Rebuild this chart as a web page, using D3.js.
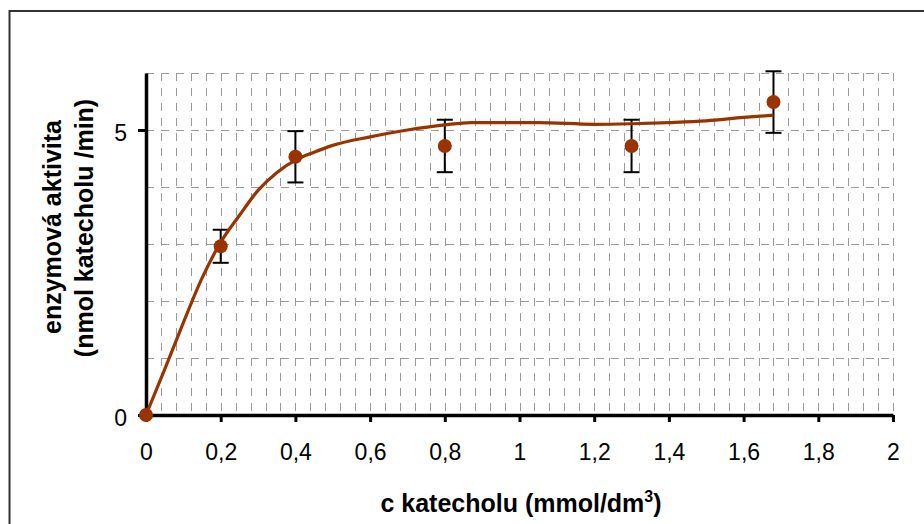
<!DOCTYPE html>
<html>
<head>
<meta charset="utf-8">
<script src="https://cdn.jsdelivr.net/npm/d3@7/dist/d3.min.js"></script>
<style>
  html, body { margin: 0; padding: 0; background: #fff; }
  svg { display: block; font-family: "Liberation Sans", Arial, sans-serif; }
</style>
</head>
<body>
<svg id="chart" width="924" height="524"></svg>
<script>
// Measured enzyme activity (mean ± error) for each catechol concentration
const concentrations = [0, 0.2, 0.4, 0.8, 1.3, 1.68];
const activity = [0, 2.96, 4.53, 4.72, 4.72, 5.49];
const errors = [0, 0.29, 0.45, 0.46, 0.46, 0.54];

// Fitted saturation curve
const fitConc = [0, 0.05, 0.1, 0.15, 0.2, 0.25, 0.3, 0.35, 0.4, 0.45, 0.5, 0.6, 0.7, 0.8, 0.87, 1.0, 1.05, 1.2, 1.3, 1.4, 1.5, 1.6, 1.68];
const fitActivity = [0, 0.8, 1.62, 2.4, 3.03, 3.5, 3.94, 4.25, 4.47, 4.61, 4.73, 4.88, 5.0, 5.09, 5.13, 5.13, 5.13, 5.1, 5.11, 5.13, 5.16, 5.22, 5.26];

// Axis ticks and grid steps
const xTicks = [0, 0.2, 0.4, 0.6, 0.8, 1, 1.2, 1.4, 1.6, 1.8, 2];
const yTicks = [0, 5];
const xMinorStep = 0.04;
const yMinorStep = 1;

const xLabel = "c katecholu (mmol/dm";
const yLabel1 = "enzymová aktivita";
const yLabel2 = "(nmol katecholu /min)";

const svg = d3.select("#chart");
const W = 924, H = 524;
const plotLeft = 146, plotRight = 893, plotTop = 73, plotBottom = 415;

const x = d3.scaleLinear().domain([0, 2]).range([plotLeft, plotRight]);
const y = d3.scaleLinear().domain([0, 6]).range([plotBottom, plotTop]);

svg.append("rect").attr("width", W).attr("height", H).attr("fill", "#fff");

// outer frame
svg.append("rect")
  .attr("x", 9.5).attr("y", 11)
  .attr("width", 1000).attr("height", 700)
  .attr("fill", "none").attr("stroke", "#333").attr("stroke-width", 2);

// grid
const grid = svg.append("g").attr("stroke", "#9a9a9a").attr("stroke-width", 1)
  .attr("stroke-dasharray", "8,7").attr("fill", "none");
const vLines = d3.range(1, Math.round(2 / xMinorStep) + 1).map(i => i * xMinorStep);
grid.selectAll("line.v").data(vLines).join("line").attr("class", "v")
  .attr("x1", d => Math.round(x(d)) + 0.5).attr("x2", d => Math.round(x(d)) + 0.5)
  .attr("y1", plotTop).attr("y2", plotBottom);
const hLines = d3.range(1, 7).map(i => i * yMinorStep);
grid.selectAll("line.h").data(hLines).join("line").attr("class", "h")
  .attr("x1", plotLeft).attr("x2", plotRight)
  .attr("y1", d => Math.round(y(d)) + 0.5).attr("y2", d => Math.round(y(d)) + 0.5);

const fmt = d => String(d).replace(".", ",");

// x axis
const gx = svg.append("g").attr("transform", `translate(0,${plotBottom})`)
  .call(d3.axisBottom(x).tickValues(xTicks).tickFormat(fmt).tickSize(7).tickSizeOuter(0));
gx.select(".domain").attr("stroke", "#000").attr("stroke-width", 3.5);
gx.selectAll(".tick line").attr("stroke", "#000").attr("stroke-width", 3);
gx.selectAll(".tick text").attr("y", 45).attr("dy", 0)
  .attr("font-size", 23).attr("fill", "#000").attr("font-family", "Liberation Sans, Arial, sans-serif");

// y axis
const gy = svg.append("g").attr("transform", `translate(${plotLeft},0)`)
  .call(d3.axisLeft(y).tickValues(yTicks).tickFormat(fmt).tickSize(8).tickPadding(11).tickSizeOuter(0));
gy.select(".domain").attr("stroke", "#000").attr("stroke-width", 3.5);
gy.selectAll(".tick line").attr("stroke", "#000").attr("stroke-width", 3);
gy.selectAll(".tick text").attr("dy", "0.45em")
  .attr("font-size", 23).attr("fill", "#000").attr("font-family", "Liberation Sans, Arial, sans-serif");

// axis titles
const xt = svg.append("text")
  .attr("x", 521).attr("y", 512).attr("text-anchor", "middle")
  .attr("font-size", 25).attr("font-weight", "bold").attr("fill", "#000");
xt.append("tspan").text(xLabel);
xt.append("tspan").attr("dy", -10).attr("font-size", 16).text("3");
xt.append("tspan").attr("dy", 10).text(")");

svg.append("text")
  .attr("transform", "translate(61,227) rotate(-90)")
  .attr("text-anchor", "middle").attr("font-size", 25).attr("font-weight", "bold")
  .text(yLabel1);
svg.append("text")
  .attr("transform", "translate(93,228) rotate(-90)")
  .attr("text-anchor", "middle").attr("font-size", 25).attr("font-weight", "bold")
  .text(yLabel2);

const data = concentrations.map((c, i) => ({ c, a: activity[i], e: errors[i] }));

// error bars
const eb = svg.append("g").attr("stroke", "#000").attr("stroke-width", 2);
data.filter(d => d.e > 0).forEach(d => {
  const cx = x(d.c);
  eb.append("line").attr("x1", cx).attr("x2", cx).attr("y1", y(d.a + d.e)).attr("y2", y(d.a - d.e));
  eb.append("line").attr("x1", cx - 8).attr("x2", cx + 8).attr("y1", y(d.a + d.e)).attr("y2", y(d.a + d.e));
  eb.append("line").attr("x1", cx - 8).attr("x2", cx + 8).attr("y1", y(d.a - d.e)).attr("y2", y(d.a - d.e));
});

// fitted curve
const fit = fitConc.map((c, i) => [c, fitActivity[i]]);
svg.append("path")
  .attr("d", d3.line().x(d => x(d[0])).y(d => y(d[1])).curve(d3.curveMonotoneX)(fit))
  .attr("fill", "none").attr("stroke", "#993300").attr("stroke-width", 3.2)
  .attr("stroke-linejoin", "round");

// measured points
svg.selectAll("circle.pt").data(data).join("circle").attr("class", "pt")
  .attr("cx", d => x(d.c)).attr("cy", d => y(d.a)).attr("r", 7)
  .attr("fill", "#993300");
</script>
</body>
</html>
